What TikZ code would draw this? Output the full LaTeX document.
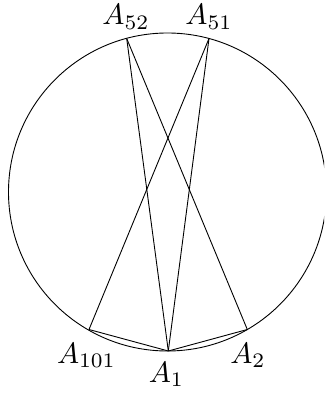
\documentclass[tikz,border=0pt]{standalone}
\begin{document}
\begin{tikzpicture}[x=1pt,y=-1pt,
  edge/.style={line width=0.9pt},
  lbl/.style={anchor=base,inner sep=0pt,scale=2.95}]
\useasboundingbox (0,0) rectangle (324,393);
\clip (0,0) rectangle (324,393);
\coordinate (O) at (167.5,192);
\draw[edge] (O) circle (159);
\coordinate (A52) at (126.7,38.5);
\coordinate (A51) at (209,38.5);
\coordinate (A101) at (89,329.5);
\coordinate (A1) at (168.3,351);
\coordinate (A2) at (247.3,329.5);
\draw[edge] (A52) -- (A1);
\draw[edge] (A52) -- (A2);
\draw[edge] (A51) -- (A1);
\draw[edge] (A51) -- (A101);
\draw[edge] (A101) -- (A1);
\draw[edge] (A1) -- (A2);
\node[lbl] (L52) at (126,25) {$A_{52}$};
\node[lbl] (L51) at (209,25) {$A_{51}$};
\node[lbl] (L101) at (86.5,363) {$A_{101}$};
\node[lbl] (L1) at (166.5,382) {$A_{1}$};
\node[lbl] (L2) at (248,363) {$A_{2}$};
\end{tikzpicture}
\end{document}
